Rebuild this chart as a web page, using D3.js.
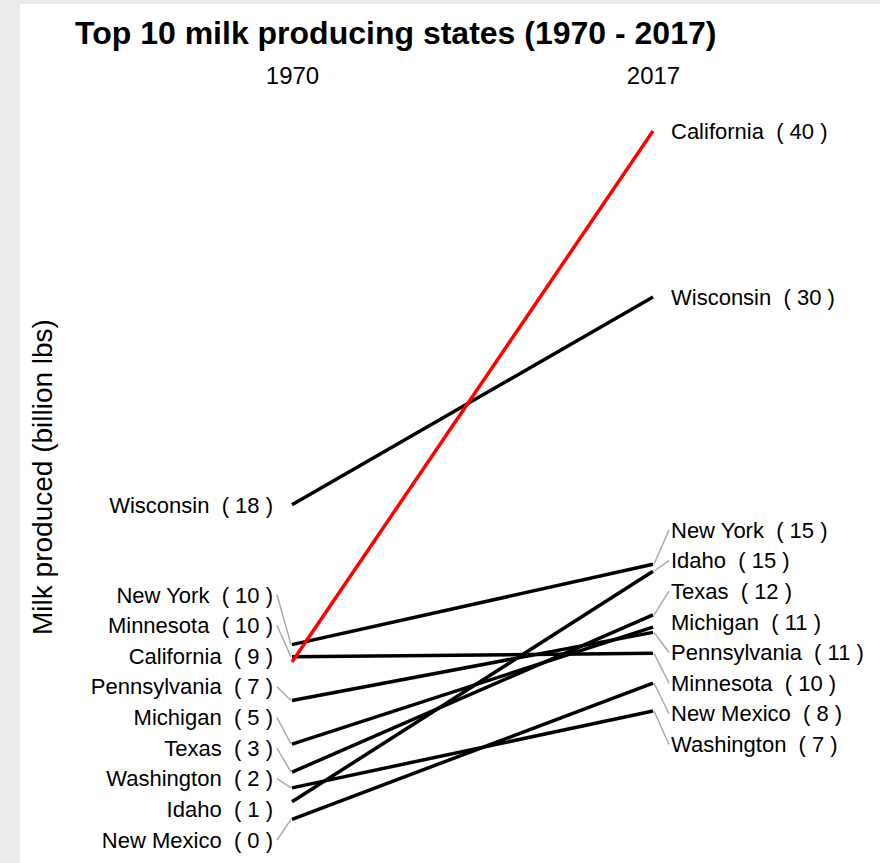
<!DOCTYPE html>
<html>
<head>
<meta charset="utf-8">
<script src="https://cdn.jsdelivr.net/npm/d3@7"></script>
<style>
  body { margin: 0; background: #fff; }
  text { font-family: "Liberation Sans", Arial, sans-serif; fill: #000; white-space: pre; }
</style>
</head>
<body>
<svg id="chart" width="880" height="863"></svg>
<script>
// Milk production, billion lbs
const states = ['California', 'Wisconsin', 'New York', 'Idaho', 'Texas',
  'Michigan', 'Pennsylvania', 'Minnesota', 'New Mexico', 'Washington'];
const milk1970 = [9.4, 18.4, 10.4, 1.4, 3.1, 4.7, 7.2, 9.7, 0.4, 2.2];
const milk2017 = [39.8, 30.3, 15.0, 14.6, 12.1, 11.4, 11.1, 9.9, 8.2, 6.6];
const years = ['1970', '2017'];
const highlight = 'California';

const svg = d3.select('#chart');

// light gray strips round the panel
svg.append('rect').attr('width', 880).attr('height', 863).attr('fill', '#ebebeb');
svg.append('rect').attr('x', 20).attr('y', 4).attr('width', 860).attr('height', 859).attr('fill', '#fff');

const x = d3.scalePoint().domain(years).range([292, 653]);
const y = d3.scaleLinear().domain([0, 40]).range([826.3, 127.5]);

const rows = states.map((s, i) => ({ state: s, v0: milk1970[i], v1: milk2017[i] }));

// title
svg.append('text')
  .attr('x', 75).attr('y', 44)
  .style('font-size', '32px').style('font-weight', 'bold')
  .text('Top 10 milk producing states (1970 - 2017)');

// year axis on top, no ticks or domain line
svg.append('g')
  .attr('transform', 'translate(0,84)')
  .call(d3.axisTop(x).tickSize(0).tickPadding(0))
  .call(g => g.select('.domain').remove())
  .selectAll('text')
  .style('font-size', '24px')
  .attr('fill', '#000');

// y axis title
svg.append('text')
  .attr('transform', 'translate(52,477) rotate(-90)')
  .attr('text-anchor', 'middle')
  .style('font-size', '28px')
  .text('Milk produced (billion lbs)');

// simple 1-d repel: keep labels at least `gap` apart, as close to the points as possible
function repel(targets, gap, lo, hi) {
  const idx = d3.range(targets.length).sort((a, b) => targets[a] - targets[b]);
  const t = idx.map((k, i) => targets[k] - i * gap);
  // pool adjacent violators
  const blocks = [];
  t.forEach((v) => {
    blocks.push({ sum: v, n: 1 });
    while (blocks.length > 1 &&
      blocks[blocks.length - 2].sum / blocks[blocks.length - 2].n >
      blocks[blocks.length - 1].sum / blocks[blocks.length - 1].n) {
      const b = blocks.pop();
      blocks[blocks.length - 1].sum += b.sum;
      blocks[blocks.length - 1].n += b.n;
    }
  });
  const p = [];
  blocks.forEach((b) => { for (let j = 0; j < b.n; j++) p.push(b.sum / b.n); });
  const pos = p.map((v, i) => v + i * gap);
  const n = pos.length;
  if (pos[n - 1] > hi) {
    pos[n - 1] = hi;
    for (let i = n - 2; i >= 0; i--) pos[i] = Math.min(pos[i], pos[i + 1] - gap);
  }
  if (pos[0] < lo) {
    pos[0] = lo;
    for (let i = 1; i < n; i++) pos[i] = Math.max(pos[i], pos[i - 1] + gap);
  }
  const out = [];
  idx.forEach((k, i) => { out[k] = pos[i]; });
  return out;
}

const gap = 30.65;
const left = repel(rows.map(d => y(d.v0)), gap, 110, 840);
// crowded labels on the right sit a touch lower than the plain least-squares fit
const rightTargets = rows.map(d => y(d.v1));
const right = repel(rightTargets, gap, 110, 840)
  .map((v, i) => Math.abs(v - rightTargets[i]) > 0.5 ? v + 5 : v);

const label = (d, v) => d.state + '  ( ' + Math.round(v) + ' )';

// gray leader segments
rows.forEach((d, i) => {
  if (Math.abs(left[i] - y(d.v0)) > 8) {
    svg.append('line')
      .attr('x1', 277).attr('y1', left[i])
      .attr('x2', x('1970') - 1).attr('y2', y(d.v0))
      .attr('stroke', '#ababab').attr('stroke-width', 1.5);
  }
  if (Math.abs(right[i] - y(d.v1)) > 8) {
    svg.append('line')
      .attr('x1', x('2017') + 1).attr('y1', y(d.v1))
      .attr('x2', 669).attr('y2', right[i])
      .attr('stroke', '#ababab').attr('stroke-width', 1.5);
  }
});

// slope lines, highlighted state drawn last
const order = rows.slice().sort((a, b) => (a.state === highlight) - (b.state === highlight));
svg.append('g')
  .selectAll('line')
  .data(order)
  .join('line')
  .attr('x1', x('1970')).attr('y1', d => y(d.v0))
  .attr('x2', x('2017')).attr('y2', d => y(d.v1))
  .attr('stroke', d => d.state === highlight ? '#ff0000' : '#000')
  .attr('stroke-width', 3.5);

// labels
svg.append('g')
  .selectAll('text')
  .data(rows)
  .join('text')
  .attr('x', 273).attr('y', (d, i) => left[i])
  .attr('text-anchor', 'end').attr('dy', '0.35em')
  .style('font-size', '22px')
  .text(d => label(d, d.v0));

svg.append('g')
  .selectAll('text')
  .data(rows)
  .join('text')
  .attr('x', 671).attr('y', (d, i) => right[i])
  .attr('dy', '0.35em')
  .style('font-size', '22px')
  .text(d => label(d, d.v1));
</script>
</body>
</html>
